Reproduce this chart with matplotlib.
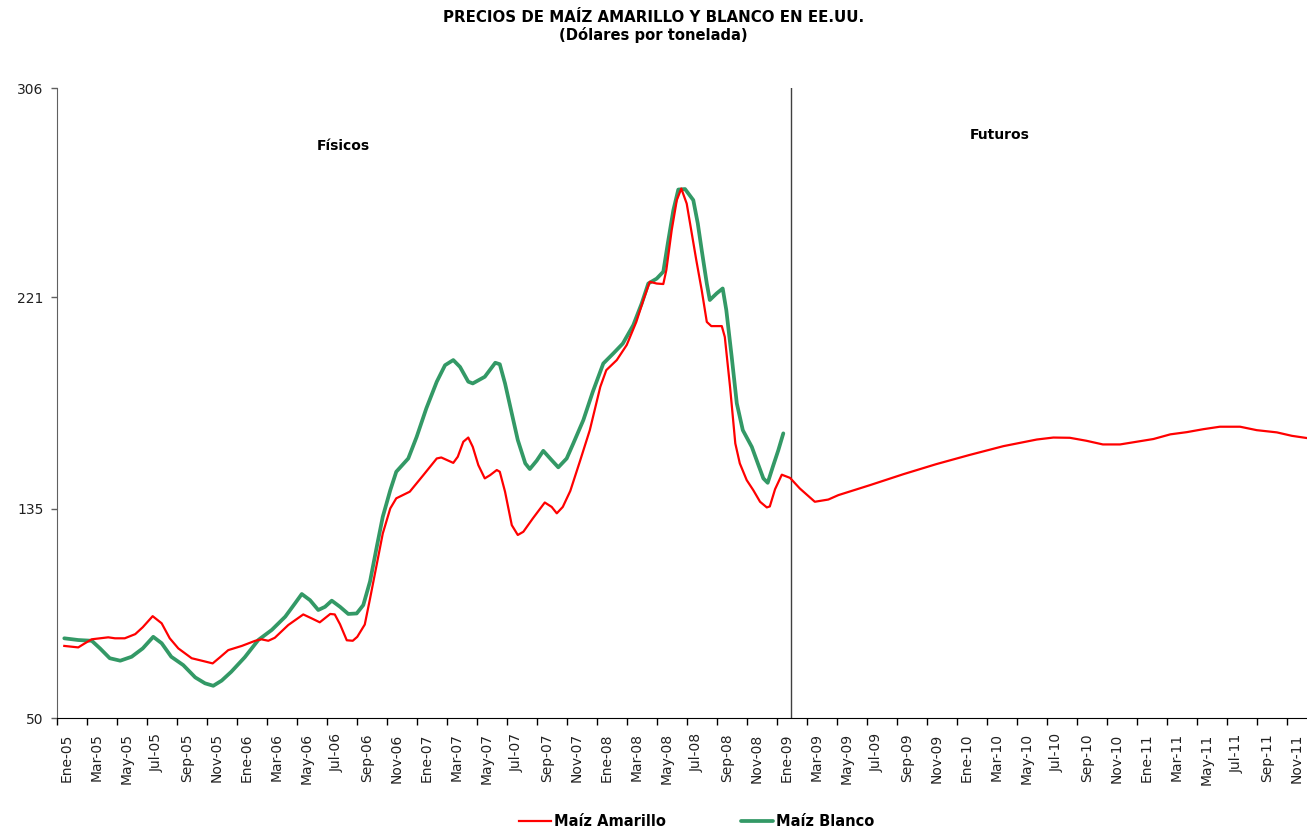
import matplotlib
matplotlib.use("Agg")
import matplotlib.pyplot as plt

# meses transcurridos desde Ene-05 (x) y precio en dolares por tonelada (y)
mes_amarillo = [0.47, 1.4, 1.85, 2.3, 3.4, 3.85, 4.5, 5.2, 5.7, 6.36, 6.96, 7.5, 8.07, 8.96, 9.7,
                10.36, 10.85, 11.4, 12.3, 13.2, 13.6, 14.07, 14.5, 15.4, 16.4, 16.96, 17.5, 18.2,
                18.5, 18.85, 19.3, 19.7, 20.0, 20.5, 20.85, 21.3, 21.7, 22.2, 22.6, 23.5, 24.4,
                25.3, 25.6, 26.4, 26.7, 27.07, 27.4, 27.7, 28.07, 28.5, 28.85, 29.3, 29.5, 29.85,
                30.3, 30.7, 31.07, 31.7, 32.5, 32.96, 33.3, 33.7, 34.2, 34.85, 35.5, 36.2, 36.6,
                37.3, 37.96, 38.6, 39.07, 39.5, 39.96, 40.4, 40.6, 40.96, 41.3, 41.6, 41.96, 42.3,
                42.6, 42.96, 43.3, 43.6, 44.3, 44.5, 44.85, 45.2, 45.5, 45.96, 46.4, 46.85, 47.3,
                47.5, 47.85, 48.3, 48.85, 49.5, 50.5, 51.4, 52.07, 54.2, 56.4, 58.6, 60.8, 63.07,
                65.3, 66.4, 67.5, 68.6, 69.7, 70.85, 71.96, 73.07, 74.2, 75.3, 76.4, 77.5, 78.85,
                79.96, 81.3, 82.3, 83.3]
precio_amarillo = [79.3, 78.7, 80.4, 82.0, 82.8, 82.4, 82.4, 84.1, 86.9, 91.4, 88.5, 82.4, 78.3, 74.3, 73.2,
                   72.2, 74.7, 77.6, 79.3, 81.4, 82.0, 81.4, 82.6, 87.8, 92.1, 90.5, 88.9, 92.3,
                   92.1, 88.1, 81.6, 81.4, 83.0, 88.0, 98.5, 112.5, 125.0, 135.2, 139.3, 142.0, 148.7,
                   155.5, 155.9, 153.7, 156.2, 162.3, 164.0, 160.2, 152.8, 147.4, 148.7, 150.8, 150.1, 142.0,
                   128.4, 124.4, 125.7, 131.1, 137.6, 135.8, 133.2, 135.8, 142.3, 154.5, 167.0, 184.6, 191.4,
                   195.5, 201.6, 211.0, 219.9, 227.3, 226.6, 226.4, 232.0, 248.3, 260.5, 265.2, 259.1, 246.9,
                   236.1, 223.9, 211.0, 209.3, 209.3, 204.9, 184.6, 161.6, 153.5, 146.7, 142.6, 137.9, 135.6,
                   136.0, 143.0, 148.9, 147.6, 143.3, 137.9, 138.8, 140.6, 144.7, 149.1, 153.2, 156.9, 160.5,
                   163.2, 164.0, 163.9, 162.7, 161.2, 161.2, 162.3, 163.4, 165.3, 166.2, 167.4, 168.4, 168.4,
                   167.0, 166.1, 164.7, 163.8]

mes_blanco = [0.47, 1.4, 2.3, 2.85, 3.5, 4.2, 4.96, 5.7, 6.4, 6.96, 7.6, 8.4, 9.2, 9.85, 10.4,
              10.96, 11.6, 12.5, 13.4, 14.3, 15.2, 15.85, 16.3, 16.85, 17.4, 17.85, 18.3, 18.85,
              19.4, 19.96, 20.4, 20.85, 21.3, 21.7, 22.2, 22.6, 23.4, 23.96, 24.6, 25.3, 25.85,
              26.4, 26.85, 27.4, 27.7, 28.5, 29.2, 29.5, 29.85, 30.3, 30.7, 31.2, 31.5, 31.96,
              32.4, 32.96, 33.4, 33.96, 34.4, 35.07, 35.7, 36.4, 37.07, 37.7, 38.4, 38.96, 39.4,
              39.96, 40.4, 40.7, 41.07, 41.4, 41.85, 42.4, 42.7, 42.96, 43.3, 43.5, 43.96, 44.36,
              44.6, 44.96, 45.3, 45.7, 46.3, 46.7, 47.07, 47.36, 47.7, 48.07, 48.4]
precio_blanco = [82.4, 81.7, 81.4, 78.3, 74.3, 73.3, 74.9, 78.3, 83.0, 80.4, 74.9, 71.5, 66.5, 64.1, 63.1,
                 65.2, 68.8, 74.7, 81.7, 85.8, 91.2, 96.6, 100.4, 97.9, 93.9, 95.2, 97.7, 95.2,
                 92.3, 92.5, 95.9, 105.5, 119.6, 131.8, 142.6, 150.1, 155.5, 164.3, 175.8, 186.7, 193.4,
                 195.5, 192.7, 186.7, 186.0, 188.7, 194.4, 193.8, 186.0, 173.8, 163.0, 153.5, 151.2, 154.6,
                 158.6, 154.8, 151.9, 155.5, 161.6, 171.1, 182.6, 194.1, 198.2, 202.2, 209.7, 218.5, 226.6,
                 228.6, 231.4, 242.9, 256.4, 264.8, 265.0, 260.5, 251.0, 240.2, 226.6, 219.9, 222.6, 224.6,
                 215.8, 196.8, 177.9, 167.0, 160.2, 153.5, 147.4, 145.6, 152.1, 158.9, 165.7]

meses = ["Ene", "Mar", "May", "Jul", "Sep", "Nov"]
anios = ["05", "06", "07", "08", "09", "10", "11"]
etiquetas = [f"{m}-{a}" for a in anios for m in meses]
y_ticks = [50, 135, 221, 306]
inicio_futuros = 48.9

fig = plt.figure(figsize=(13.07, 8.32), dpi=100)
ax = fig.add_axes([0.0438, 0.137, 0.9562, 0.757])

ax.plot(mes_blanco, precio_blanco, color="#339966", lw=2.7, label="Maíz Blanco", zorder=3,
        solid_joinstyle="round", solid_capstyle="round")
ax.plot(mes_amarillo, precio_amarillo, color="#FF0000", lw=1.6, label="Maíz Amarillo", zorder=4,
        solid_joinstyle="round")
ax.axvline(inicio_futuros, color="#404040", lw=1.0)

ax.set_xlim(0, 83.31)
ax.set_ylim(50, 306)

pos = [2 * i for i in range(len(etiquetas))]
ax.set_xticks(pos)
ax.set_xticklabels([])
ax.set_xticks([p + 0.63 for p in pos], minor=True)
ax.set_xticklabels(etiquetas, minor=True, rotation=90, fontsize=10, color="#202020")
ax.tick_params(axis="x", which="major", direction="out", length=5, width=1)
ax.tick_params(axis="x", which="minor", length=0, pad=11)
ax.set_yticks(y_ticks)
ax.set_yticklabels([str(v) for v in y_ticks], fontsize=10, color="#202020")
ax.tick_params(axis="y", direction="out", length=4, width=1, pad=6, color="#606060")

ax.spines["top"].set_visible(False)
ax.spines["right"].set_visible(False)
ax.spines["left"].set_color("#606060")
ax.spines["bottom"].set_color("black")

ax.text(19.05, 282.4, "Físicos", ha="center", va="center", fontsize=10, fontweight="bold")
ax.text(62.85, 286.9, "Futuros", ha="center", va="center", fontsize=10, fontweight="bold")

fig.text(0.5, 0.979, "PRECIOS DE MAÍZ AMARILLO Y BLANCO EN EE.UU.", ha="center", va="center",
         fontsize=10.8, fontweight="bold")
fig.text(0.5, 0.958, "(Dólares por tonelada)", ha="center", va="center",
         fontsize=10.6, fontweight="bold")

handles, labels = ax.get_legend_handles_labels()
leg = fig.legend(handles[::-1], labels[::-1], loc="center", bbox_to_anchor=(0.533, 0.013), ncol=2,
                 frameon=False, handlelength=2.2, handletextpad=0.15, columnspacing=5.2,
                 prop={"size": 10.5, "weight": "bold"})

fig.savefig("out.png", dpi=100)
